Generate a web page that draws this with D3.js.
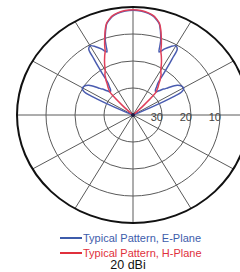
<!DOCTYPE html>
<html lang="en">
<head>
    <meta charset="UTF-8">
    <title>20 dBi Pattern</title>
    <script src="https://d3js.org/d3.v7.min.js"></script>
    <style>
        html, body {
            margin: 0;
            padding: 0;
            background: #fff;
        }
        svg {
            display: block;
            font-family: Arial, "Liberation Sans", sans-serif;
        }
    </style>
</head>
<body>
    <svg id="chart" width="240" height="272"></svg>

    <script>
        // angle from boresight (deg), pattern is symmetric left/right
        var angles = [0, 4, 8, 11, 13, 15, 17, 19, 20, 21, 22, 24, 27, 30, 32, 33, 34, 35, 36, 38, 40, 43, 44, 46, 47, 48, 50, 54, 58, 61, 63, 64, 65, 66, 67, 70, 90, 180];
        // relative gain, dB
        var hPlane = [-1, -1.2, -1.8, -2.6, -3.6, -4.8, -7.2, -10, -11.4, -12.8, -14.4, -16, -18.4, -20.8, -21.8, -22.2, -23, -23.6, -24.2, -25.6, -26.6, -28.4, -29.6, -35, -37.5, -40, -40, -40, -40, -40, -40, -40, -40, -40, -40, -40, -40, -40];
        var ePlane = [-1.2, -1.4, -2, -2.8, -3.8, -5, -7.6, -10.6, -13, -15, -14.6, -13.2, -11.6, -10.4, -11.2, -15.2, -19.2, -22.8, -25.2, -26.8, -28, -28.4, -27.8, -26.8, -26, -25.6, -24.4, -21.2, -20, -20, -21.2, -24, -30, -36, -40, -40, -40, -40];

        var ringValues = [-30, -20, -10, 0];
        var ringLabels = ["30", "20", "10"];
        var spokes = d3.range(0, 360, 30);

        var cx = 133, cy = 115, rx = 116, ry = 108;

        var svg = d3.select("#chart");

        var r = d3.scaleLinear().domain([-40, 0]).range([0, 1]).clamp(true);
        var x = d3.scaleLinear().domain([-1, 1]).range([cx - rx, cx + rx]);
        var y = d3.scaleLinear().domain([-1, 1]).range([cy + ry, cy - ry]);

        function toXY(deg, db) {
            var a = deg * Math.PI / 180;
            return [x(r(db) * Math.sin(a)), y(r(db) * Math.cos(a))];
        }

        // grid
        var grid = svg.append("g");
        grid.selectAll(".spoke")
            .data(spokes)
            .enter().append("line")
            .attr("x1", x(0))
            .attr("y1", y(0))
            .attr("x2", function(d) { return toXY(d, 0)[0]; })
            .attr("y2", function(d) { return toXY(d, 0)[1]; })
            .attr("stroke", "#5a5a5a")
            .attr("stroke-width", 1);

        grid.selectAll(".ring")
            .data(ringValues)
            .enter().append("ellipse")
            .attr("cx", x(0))
            .attr("cy", y(0))
            .attr("rx", function(d) { return x(r(d)) - x(0); })
            .attr("ry", function(d) { return y(0) - y(r(d)); })
            .attr("fill", "none")
            .attr("stroke", function(d) { return d === 0 ? "#111" : "#5a5a5a"; })
            .attr("stroke-width", function(d) { return d === 0 ? 2 : 1; });

        grid.selectAll(".ring-label")
            .data(ringLabels)
            .enter().append("text")
            .attr("x", function(d, i) { return x(r(ringValues[i])) + 1; })
            .attr("y", y(0) + 6)
            .attr("text-anchor", "end")
            .attr("font-size", 11)
            .attr("fill", "#444")
            .text(function(d) { return d; });

        // full pattern: mirror the half-plane readings
        function fullPattern(vals) {
            var left = angles.map(function(a, i) { return [-a, vals[i]]; }).reverse();
            var right = angles.slice(1).map(function(a, i) { return [a, vals[i + 1]]; });
            return left.concat(right);
        }

        var line = d3.line()
            .x(function(d) { return toXY(d[0], d[1])[0]; })
            .y(function(d) { return toXY(d[0], d[1])[1]; })
            .curve(d3.curveCatmullRom);

        svg.append("path")
            .datum(fullPattern(ePlane))
            .attr("d", line)
            .attr("fill", "none")
            .attr("stroke", "#4a5cb0")
            .attr("stroke-width", 1.5);

        svg.append("path")
            .datum(fullPattern(hPlane))
            .attr("d", line)
            .attr("fill", "none")
            .attr("stroke", "#e0405a")
            .attr("stroke-width", 1.5);

        svg.append("circle")
            .attr("cx", x(0))
            .attr("cy", y(0))
            .attr("r", 2)
            .attr("fill", "#1a1a40");

        // legend
        var legend = [
            {name: "Typical Pattern, E-Plane", color: "#3d5cab"},
            {name: "Typical Pattern, H-Plane", color: "#e0303c"}
        ];
        var lg = svg.append("g");
        lg.selectAll("line")
            .data(legend)
            .enter().append("line")
            .attr("x1", 60).attr("x2", 82)
            .attr("y1", function(d, i) { return 238 + i * 15; })
            .attr("y2", function(d, i) { return 238 + i * 15; })
            .attr("stroke", function(d) { return d.color; })
            .attr("stroke-width", 2);
        lg.selectAll("text")
            .data(legend)
            .enter().append("text")
            .attr("x", 83)
            .attr("y", function(d, i) { return 242 + i * 15; })
            .attr("font-size", 11)
            .attr("fill", function(d) { return d.color; })
            .text(function(d) { return d.name; });

        svg.append("text")
            .attr("x", 128)
            .attr("y", 269)
            .attr("text-anchor", "middle")
            .attr("font-size", 12.5)
            .attr("fill", "#111")
            .text("20 dBi");
    </script>
</body>
</html>
